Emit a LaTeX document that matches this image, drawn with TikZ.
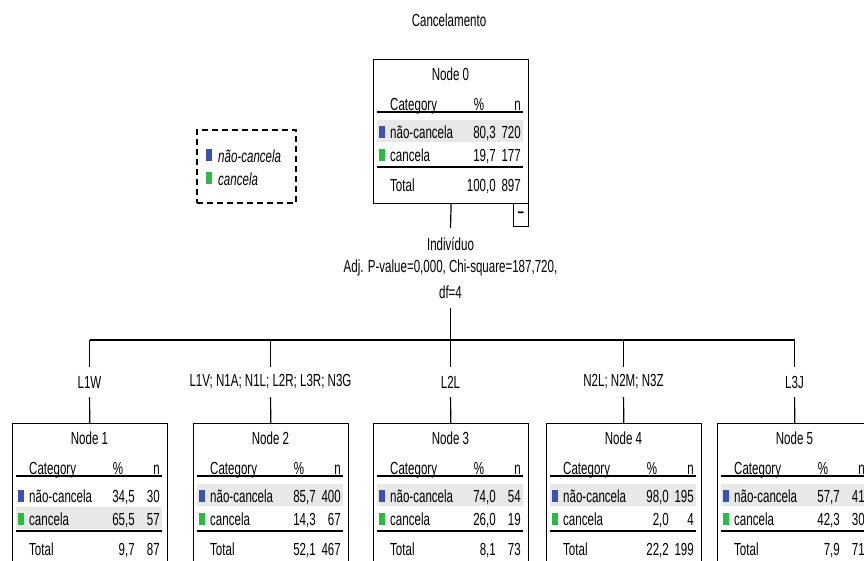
\documentclass[tikz,border=0pt]{standalone}
\usepackage{fontspec}
\setmainfont[FakeStretch=0.66]{Liberation Sans}
\definecolor{nblue}{RGB}{62,80,180}
\definecolor{ngreen}{RGB}{44,185,70}
\definecolor{rowgray}{RGB}{232,232,232}
\tikzset{
  nodebox/.style={draw, line width=1.2pt, minimum width=155pt, minimum height=144pt, inner sep=0pt, anchor=north west},
  tablerule/.style={line width=2pt},
  conn/.style={line width=1.2pt},
  brlab/.style={inner sep=0pt, minimum height=30pt},
  cell/.style={inner sep=0pt}
}
\def\hly{61}
\newcommand\mytreenode[9]{%
 \begin{scope}[shift={(#2)}]
  \fill[rowgray] (4,\hly) rectangle (150,\hly+22);
  \node[nodebox] (#1) at (0,0) {};
  \node[cell, anchor=base] (#1-title) at (77.5,21) {Node #3};
  \node[cell, anchor=base west] (#1-cat) at (17,51) {Category};
  \node[cell, anchor=base] (#1-pc) at (106,51) {\%};
  \node[cell, anchor=base east] (#1-n) at (148,51) {n};
  \draw[tablerule] (4,53) -- (150,53);
  \fill[nblue] (6,67) rectangle (12,79);
  \node[cell, anchor=base west] (#1-r1) at (17,79) {não-cancela};
  \node[cell, anchor=base east] (#1-r1p) at (123,79) {#4};
  \node[cell, anchor=base east] (#1-r1n) at (148,79) {#5};
  \fill[ngreen] (6,90) rectangle (12,102);
  \node[cell, anchor=base west] (#1-r2) at (17,102) {cancela};
  \node[cell, anchor=base east] (#1-r2p) at (123,102) {#6};
  \node[cell, anchor=base east] (#1-r2n) at (148,102) {#7};
  \draw[tablerule] (4,108) -- (150,108);
  \node[cell, anchor=base west] (#1-tot) at (17,132) {Total};
  \node[cell, anchor=base east] (#1-totp) at (123,132) {#8};
  \node[cell, anchor=base east] (#1-totn) at (148,132) {#9};
 \end{scope}}
\begin{document}
\begin{tikzpicture}[x=1pt, y=-1pt, font=\fontsize{17.5}{22}\selectfont]
\useasboundingbox (0,0) rectangle (864,560);
\clip (0,0) rectangle (864,560);
\fill[white] (0,0) rectangle (864,560);

\node[cell] (title) at (449,20) {Cancelamento};

% legend
\node[draw, line width=1.5pt, dash pattern=on 6pt off 4pt, minimum width=99pt, minimum height=73pt, inner sep=0pt] (legend) at (246.5,166.5) {};
\fill[nblue] (206,149) rectangle (212,161);
\node[cell, anchor=base west, font=\fontsize{17.5}{22}\selectfont\itshape] (leg1) at (218,162) {não-cancela};
\fill[ngreen] (206,172) rectangle (212,184);
\node[cell, anchor=base west, font=\fontsize{17.5}{22}\selectfont\itshape] (leg2) at (218,185) {cancela};

% nodes
\def\hly{61}
\mytreenode{n0}{373,59}{0}{80,3}{720}{19,7}{177}{100,0}{897}
\node[draw, line width=1.2pt, minimum width=15pt, minimum height=23pt, inner sep=0pt, anchor=north east, font=\fontsize{17.5}{22}\selectfont\bfseries] (minus) at (529,203) {–};

\def\hly{84}
\mytreenode{n1}{12,423}{1}{34,5}{30}{65,5}{57}{9,7}{87}
\def\hly{61}
\mytreenode{n2}{193,423}{2}{85,7}{400}{14,3}{67}{52,1}{467}
\mytreenode{n3}{373,423}{3}{74,0}{54}{26,0}{19}{8,1}{73}
\mytreenode{n4}{546,423}{4}{98,0}{195}{2,0}{4}{22,2}{199}
\mytreenode{n5}{717,423}{5}{57,7}{41}{42,3}{30}{7,9}{71}

% split statistics
\node[cell, align=center, minimum height=80pt] (stat) at (450.5,268)
  {Indivíduo\\Adj. P-value=0,000, Chi-square=187,720,\\[4pt]df=4};
\draw[conn] (n0.south) -- (stat.north);
\coordinate (bc) at (450.5,340);
\draw[conn] (stat.south) -- (bc);

\coordinate (b1) at (89.5,340);
\coordinate (b2) at (270.5,340);
\coordinate (b3) at (450.5,340);
\coordinate (b4) at (623.5,340);
\coordinate (b5) at (794.5,340);
\draw[conn] (b1) -- (b5);

\node[brlab] (l1) at (89.5,382) {L1W};
\node[brlab] (l2) at (270.5,382) {L1V; N1A; N1L; L2R; L3R; N3G};
\node[brlab] (l3) at (450.5,382) {L2L};
\node[brlab] (l4) at (623.5,382) {N2L; N2M; N3Z};
\node[brlab] (l5) at (794.5,382) {L3J};

\foreach \i in {1,...,5} {
  \draw[conn] (b\i) -- (l\i);
  \draw[conn] (l\i) -- (n\i);
}
\end{tikzpicture}
\end{document}
